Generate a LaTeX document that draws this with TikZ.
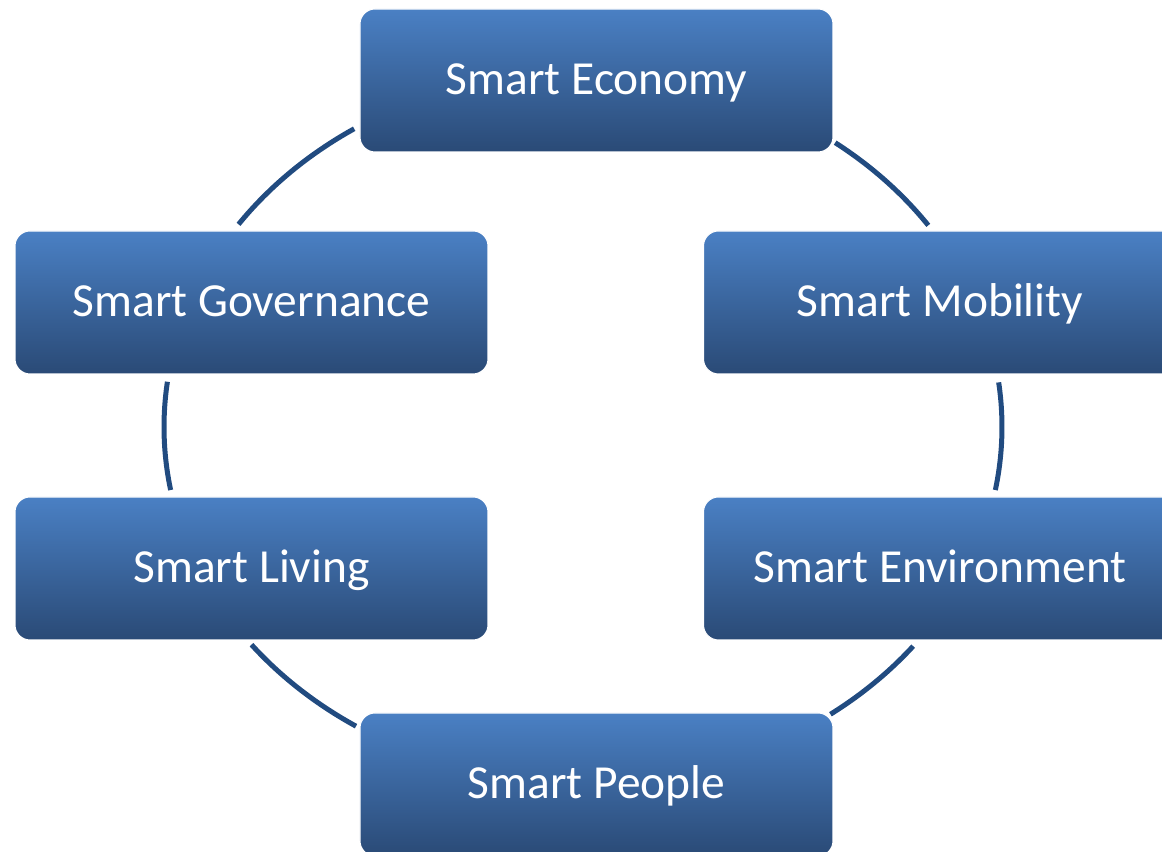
\documentclass[tikz,border=0pt]{standalone}
\usepackage{fontspec}
\setmainfont{Carlito}
\definecolor{ringblue}{RGB}{33,75,128}
\definecolor{boxtop}{RGB}{74,128,196}
\definecolor{boxbot}{RGB}{42,74,118}
\begin{document}
\begin{tikzpicture}[
	    smartbox/.style={rounded corners=0.15cm, minimum width=4.73cm, minimum height=1.43cm, inner sep=0pt,
	        top color=boxtop, bottom color=boxbot, draw=white, line width=0.3pt, text=white,
	        font=\fontsize{13.5}{16}\selectfont, text height=9pt, text depth=1.2pt},
	    ring/.style={line width=0.05cm, ringblue}]
	    \useasboundingbox (0,0) rectangle (11.62,8.52);
	    \clip (0,0) rectangle (11.62,8.52);
	    \coordinate (c) at (5.83,4.25);
	    \draw[ring] ([shift={(34.5:4.19 and 3.56)}]c) arc[start angle=34.5, end angle=53, x radius=4.19, y radius=3.56];
	    \draw[ring] ([shift={(123.1:4.19 and 3.56)}]c) arc[start angle=123.1, end angle=145.3, x radius=4.19, y radius=3.56];
	    \draw[ring] ([shift={(172.7:4.19 and 3.56)}]c) arc[start angle=172.7, end angle=190.2, x radius=4.19, y radius=3.56];
	    \draw[ring] ([shift={(217.7:4.19 and 3.56)}]c) arc[start angle=217.7, end angle=237.2, x radius=4.19, y radius=3.56];
	    \draw[ring] ([shift={(306.2:4.19 and 3.56)}]c) arc[start angle=306.2, end angle=322, x radius=4.19, y radius=3.56];
	    \draw[ring] ([shift={(-10.2:4.19 and 3.56)}]c) arc[start angle=-10.2, end angle=7.2, x radius=4.19, y radius=3.56];
	    \node[smartbox] (Ec) at (5.965,7.715) {Smart Economy};
	    \node[smartbox] (Go) at (2.515,5.495) {Smart Governance};
	    \node[smartbox] (Mo) at (9.40,5.495) {Smart Mobility};
	    \node[smartbox] (Li) at (2.515,2.835) {Smart Living};
	    \node[smartbox] (En) at (9.40,2.835) {Smart Environment};
	    \node[smartbox] (Pe) at (5.965,0.675) {Smart People};
	\end{tikzpicture}
\end{document}
